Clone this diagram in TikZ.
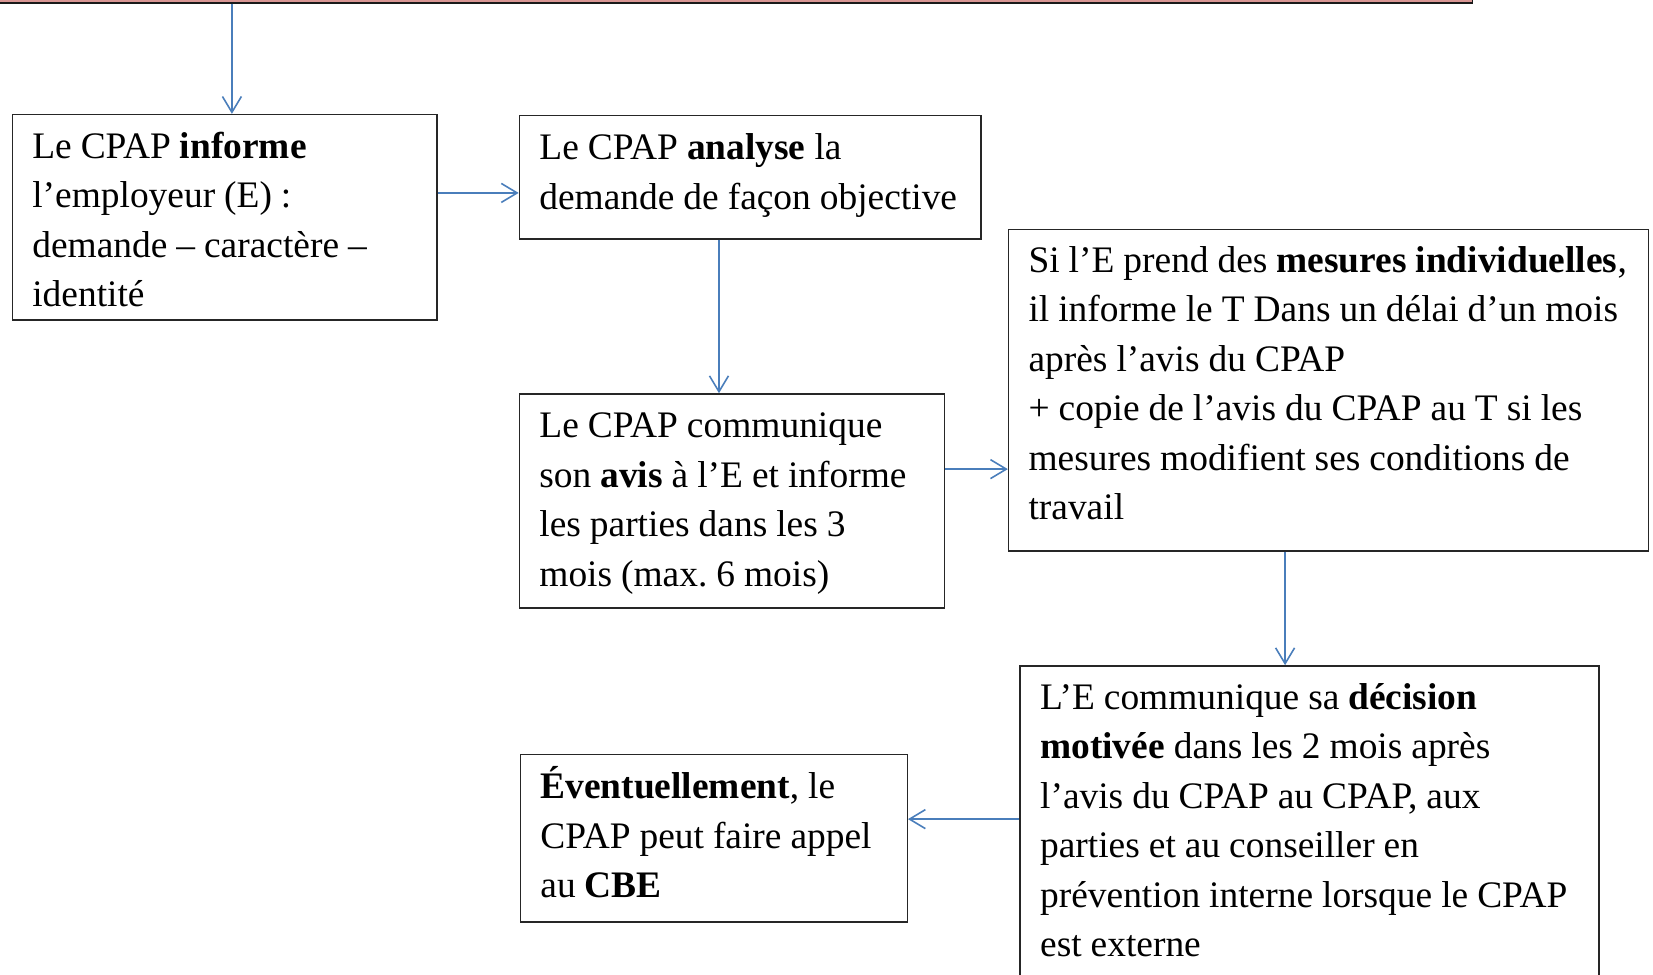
\documentclass[tikz,border=0pt]{standalone}
\usepackage{fontspec}
\setmainfont{Liberation Serif}
\usetikzlibrary{arrows.meta}
\definecolor{arrowblue}{HTML}{4A7EBB}
\definecolor{barpink}{HTML}{D99694}
\newcommand{\Lx}[1]{\mbox{\spaceskip=0.24em\relax #1}}
\frenchspacing
\begin{document}
\begin{tikzpicture}[x=0.5pt,y=-0.5pt,
  box/.style={draw=black!85, line width=0.65pt, anchor=north west, align=left,
    inner xsep=9.5pt, inner ysep=0pt,
    font=\fontsize{17.75}{23.5}\selectfont},
  conn/.style={draw=arrowblue, line width=0.75pt, -{Straight Barb[length=7.5pt,width=9pt]}}
]
\clip (0,0) rectangle (1568,924);
\fill[white] (0,0) rectangle (1568,924);

\node[draw=black!90, line width=0.65pt, fill=barpink, anchor=south west,
  minimum width=700.5pt, minimum height=15pt, inner sep=0pt] (bar) at (-5,3.5) {};

\node[box, text width=182.5pt, text height=20.75pt, text depth=76.75pt] (b1) at (11,108)
  {\Lx{Le CPAP \textbf{informe}}\\ \Lx{l’employeur (E) :}\\ \Lx{demande – caractère –}\\ \Lx{identité}};
\node[box, text width=200pt, text height=21pt, text depth=37.5pt] (b2) at (492,109)
  {\Lx{Le CPAP \textbf{analyse} la}\\ \Lx{demande de façon objective}};
\node[box, text width=182.5pt, text height=20.75pt, text depth=80.75pt] (b3) at (492,373)
  {\Lx{Le CPAP communique}\\ \Lx{son \textbf{avis} à l’E et informe}\\ \Lx{les parties dans les 3}\\ \Lx{mois (max. 6 mois)}};
\node[box, text width=284.5pt, text height=20.3pt, text depth=132.2pt] (b4) at (956,217)
  {\Lx{Si l’E prend des \textbf{mesures individuelles},}\\ \Lx{il informe le T Dans un délai d’un mois}\\ \Lx{après l’avis du CPAP}\\ \Lx{+ copie de l’avis du CPAP au T si les}\\ \Lx{mesures modifient ses conditions de}\\ \Lx{travail}};
\node[box, text width=255.5pt, text height=20.5pt, text depth=129.5pt] (b5) at (967,631)
  {\Lx{L’E communique sa \textbf{décision}}\\ \Lx{\textbf{motivée} dans les 2 mois après}\\ \Lx{l’avis du CPAP au CPAP, aux}\\ \Lx{parties et au conseiller en}\\ \Lx{prévention interne lorsque le CPAP}\\ \Lx{est externe}};
\node[box, text width=164.5pt, text height=21pt, text depth=58.5pt] (b6) at (493,715)
  {\Lx{\textbf{Éventuellement}, le}\\ \Lx{CPAP peut faire appel}\\ \Lx{au \textbf{CBE}}};

\coordinate (x1) at (220,0);
\coordinate (x2) at (682,0);
\coordinate (x3) at (1219,0);
\coordinate (y1) at (0,183);
\coordinate (y2) at (0,445);
\coordinate (y3) at (0,777);

\draw[conn] (x1 |- bar.south) -- (x1 |- b1.north);
\draw[conn] (b1.east |- y1) -- (b2.west |- y1);
\draw[conn] (x2 |- b2.south) -- (x2 |- b3.north);
\draw[conn] (b3.east |- y2) -- (b4.west |- y2);
\draw[conn] (x3 |- b4.south) -- (x3 |- b5.north);
\draw[conn] (b5.west |- y3) -- (b6.east |- y3);
\end{tikzpicture}
\end{document}
